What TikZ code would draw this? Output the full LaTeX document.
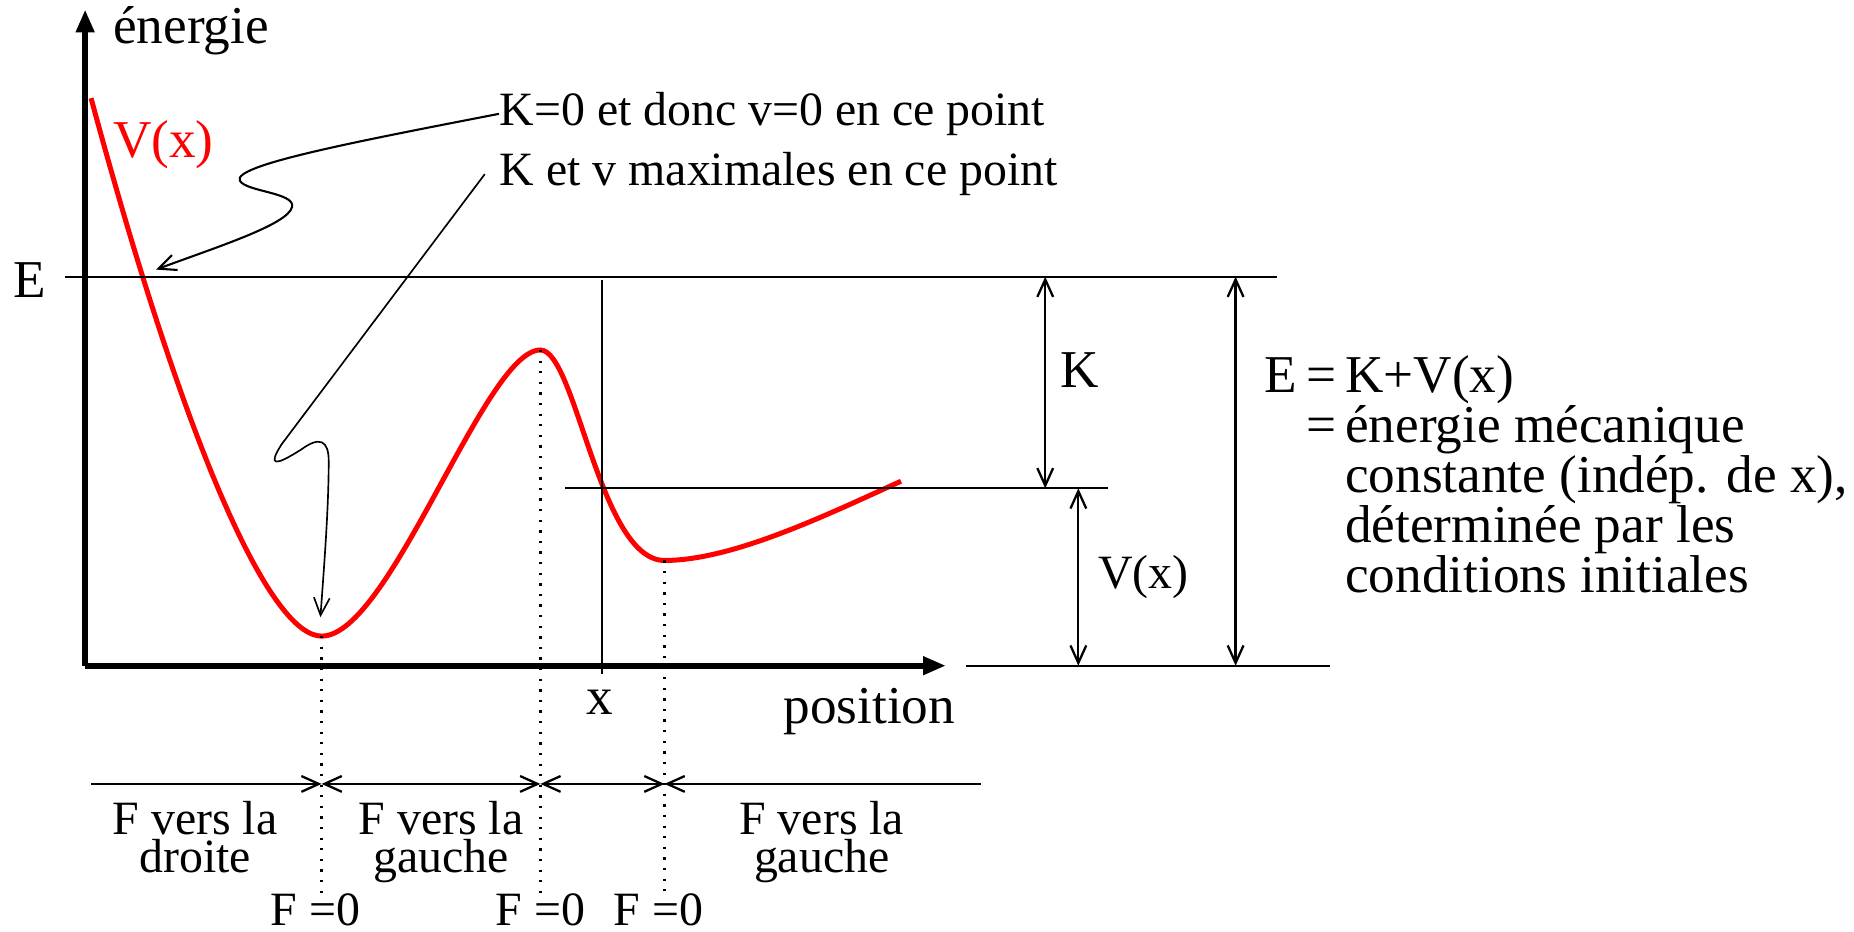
\documentclass[tikz,border=0pt]{standalone}
\usepackage{fontspec}
\setmainfont{Liberation Serif}
\usepackage{tikz}
\usetikzlibrary{arrows.meta, positioning, calc}
\definecolor{curvered}{HTML}{FF0000}

\begin{document}
\begin{tikzpicture}[
    x=0.01cm, y=-0.01cm,
    >={Straight Barb[length=4.2pt, width=3.8pt]},
    axis/.style={line width=1.4pt, -{Triangle[length=5.5pt, width=4.2pt]}},
    potential/.style={curvered, line width=1.2pt},
    level/.style={line width=0.55pt},
    pointer/.style={line width=0.5pt, ->},
    bigtxt/.style={inner sep=0pt, font=\fontsize{12.8pt}{12pt}\selectfont},
    smalltxt/.style={inner sep=0pt, font=\fontsize{11.5pt}{9.2pt}\selectfont},
]
\useasboundingbox (0,0) rectangle (1568,788);

% axes
\coordinate (origin) at (72,563);
\draw[axis] (origin) -- (72,8);
\draw[axis] (origin) -- (800,563);
\node[bigtxt, anchor=base west] (ylab) at (95,37) {énergie};
\node[bigtxt, anchor=base west] (xlab) at (662,612) {position};
\node[bigtxt, anchor=base] (xpos) at (507,604) {x};
\node[bigtxt, anchor=base east] (elab) at (40,252) {E};

% potential
\coordinate (min1) at (272,538);
\coordinate (max1) at (457,296);
\coordinate (min2) at (562,474);
\draw[potential] (77,83) .. controls (160,390) and (230,538) .. (min1)
    .. controls (330,538) and (410,296) .. (max1)
    .. controls (487,296) and (507,474) .. (min2)
    .. controls (620,474) and (700,435) .. (762,407);
\node[bigtxt, curvered, anchor=base west] (vlab) at (95,133) {V(x)};

% levels
\draw[level] (55,234) -- (1080,234);
\draw[level] (478,413) -- (937,413);
\draw[level] (817,563) -- (1125,563);
\draw[level] (509,237) -- (509,570);

\draw[level, <->] (884,234) -- node[bigtxt, right=3.5pt, yshift=3pt] (klab) {K} (884,413);
\draw[level, <->] (912,413) -- node[smalltxt, right=4.5pt] (vxlab) {V(x)} (912,563);
\draw[level, <->] (1045,234) -- (1045,563);

\node[bigtxt, anchor=north west, align=left] (defn) at (1137,300)
    {\llap{E\,=\,}K+V(x)\\\llap{=\,}énergie mécanique\\constante (indép. de x),\\déterminée par les\\conditions initiales};

% annotations
\node[smalltxt, anchor=base west] (note1) at (422,106) {K=0 et donc v=0 en ce point};
\node[smalltxt, anchor=base west] (note2) at (422,157) {K et v maximales en ce point};
\coordinate (ezero) at (132,228);
\coordinate (vmax) at (271,522);
\draw[pointer] (note1.west) .. controls (300,120) and (195,140) .. (203,153)
    .. controls (208,162) and (250,163) .. (247,175)
    .. controls (244,190) and (180,210) .. (ezero);
\draw[pointer, line width=0.4pt] ([xshift=-0.12cm]note2.west) -- (238,376)
    .. controls (226,395) and (233,394) .. (255,380)
    .. controls (270,369) and (278,372) .. (278,390)
    .. controls (278,430) and (274,480) .. (vmax);

% force directions
\node[smalltxt, anchor=base] (f1) at (267,783) {F =0};
\node[smalltxt, anchor=base] (f2) at (457,783) {F =0};
\node[smalltxt, anchor=base] (f3) at (557,783) {F =0};
\draw[level, dotted] (min1) -- (min1 |- f1.north);
\draw[level, dotted] (max1) -- (max1 |- f2.north);
\draw[level, dotted] (min2) -- (min2 |- f3.north);

\coordinate (fstart) at (77,663);
\coordinate (fend) at (830,663);
\draw[level, ->] (fstart) -- (min1 |- fstart);
\draw[level, <->] (min1 |- fstart) -- (max1 |- fstart);
\draw[level, <->] (max1 |- fstart) -- (min2 |- fstart);
\draw[level, <-] (min2 |- fstart) -- (fend);

\node[smalltxt, anchor=north, align=center] (zone1) at (165,677) {F vers la\\droite};
\node[smalltxt, anchor=north, align=center] (zone2) at (373,677) {F vers la\\gauche};
\node[smalltxt, anchor=north, align=center] (zone4) at (695,677) {F vers la\\gauche};

\end{tikzpicture}
\end{document}
